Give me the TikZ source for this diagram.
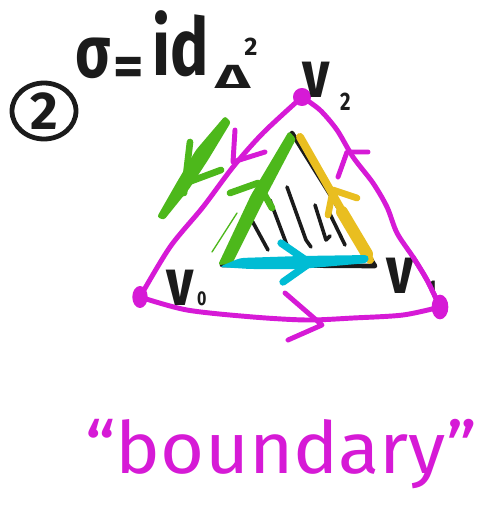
\documentclass[tikz,border=0pt]{standalone}
\usepackage{fontspec}
\setmainfont{Fira Sans}
\usetikzlibrary{shapes.geometric}
\definecolor{mag}{HTML}{D61AD6}
\definecolor{grn}{HTML}{4DB81B}
\definecolor{yel}{HTML}{E9BE20}
\definecolor{cyn}{HTML}{00BCD4}
\definecolor{ink}{HTML}{1B1B1B}
\begin{document}
\begin{tikzpicture}[x=0.75pt,y=-0.75pt,line cap=round,line join=round,
  edge/.style={mag,line width=3.7pt},
  chev/.style={mag,line width=3.7pt},
  hatch/.style={ink,line width=2.7pt},
  inner/.style={ink,line width=3.5pt},
  txt/.style={ink,inner sep=0pt,outer sep=0pt},
  vdot/.style={ellipse,fill=mag,draw=mag,line width=1.5pt,inner sep=0pt}]
\useasboundingbox[fill=white] (0,0) rectangle (489,511);

% ---------- title ----------
\node[txt,draw=ink,line width=3.6pt,ellipse,minimum width=48pt,minimum height=42pt,
  font=\bfseries\fontsize{40}{40}\selectfont] (num) at (44,111) {2};
\node[txt,xscale=0.8,font=\bfseries\fontsize{55}{55}\selectfont] (sig) at (93,58) {σ};
\node[txt,font=\bfseries\fontsize{44}{44}\selectfont] (eq) at (129,72) {=};
\node[txt,anchor=base west,xscale=0.8,font=\bfseries\fontsize{60}{60}\selectfont] (id) at (152,75) {id};
\node[txt,yscale=0.57,font=\bfseries\fontsize{44}{44}\selectfont] (del) at (233,77) {Δ};
\node[txt,font=\bfseries\fontsize{19}{19}\selectfont] (sq) at (251,47) {2};

% ---------- vertices ----------
\coordinate (v0) at (140,297);
\coordinate (v2) at (302,97);
\coordinate (v1) at (440,307);

% outer green arrow (left)
\fill[grn,rounded corners=2pt] (157,217) -- (164,220) -- (189,189) -- (208,160) -- (231,122)
   -- (225,116) -- (196,150) -- (177,182) -- cycle;
\draw[grn,line width=5pt] (190,142) -- (184,193);
\draw[grn,line width=5pt] (186,183) -- (221,170);

% ---------- outer boundary ----------
\draw[edge] plot[smooth] coordinates {(v0) (170,247) (203,207) (233,167) (263,133) (v2)};
\draw[edge] plot[smooth] coordinates {(v2) (320,110) (337,130) (353,157) (373,183) (387,207) (397,233) (413,257) (427,280) (v1)};
\draw[edge] plot[smooth] coordinates {(v0) (187,310) (253,317) (307,320) (353,318) (403,315) (v1)};
\draw[chev] (235,130) -- (233,162) -- (265,152);
\draw[chev] (338,177) -- (347,152) -- (368,152);
\draw[chev] (285,293) -- (322,325) -- (288,340);

\node[vdot,minimum width=10pt,minimum height=15pt] (d0) at (v0) {};
\node[vdot,minimum width=12pt,minimum height=12pt] (d2) at (v2) {};

% ---------- vertex labels ----------
\node[txt,anchor=base west,xscale=0.8] (l0) at (166,305)
  {\bfseries\fontsize{50}{50}\selectfont v\hspace{3.5pt}\fontsize{15}{15}\selectfont 0};
\node[txt,anchor=base west,xscale=0.8] (l2) at (302,97)
  {\bfseries\fontsize{50}{50}\selectfont v\hspace{10pt}\raisebox{-10pt}{\fontsize{19}{19}\selectfont 2}};
\node[txt,anchor=base west,xscale=0.8] (l1) at (386,293)
  {\bfseries\fontsize{50}{50}\selectfont v\hspace{14pt}\raisebox{-1.5pt}{\fontsize{16}{16}\selectfont 1}};
% the right edge passes over the "1"
\draw[edge] plot[smooth] coordinates {(413,257) (427,280) (v1)};
\node[vdot,minimum width=11pt,minimum height=17pt] (d1) at (v1) {};

% ---------- inner 2-simplex ----------
\coordinate (t) at (292,133);
\coordinate (bl) at (222,265);
\coordinate (br) at (375,266);
\draw[inner] (t) -- (bl) -- (br) -- cycle;
\draw[hatch] (250,217) -- (268,250);
\draw[hatch] (270,200) -- (288,248);
\draw[hatch] (287,187) -- (306,240) -- (311,247);
\draw[hatch] (315,205) -- (326,240) -- (330,236);
\draw[hatch] (328,210) -- (345,245);

% green edge (v0 -> v2)
\fill[grn,rounded corners=2pt] (218,265) -- (232,264) -- (264,200) -- (296,139) -- (289,131) -- (251,195) -- cycle;
\draw[grn,line width=5pt] (230,193) -- (258,183) -- (272,208);
\draw[grn,line width=1pt] (212,252) -- (237,213);

% yellow edge (v1 -> v2)
\draw[yel,line width=6pt] (300,137) -- (370,260);
\draw[yel,line width=9pt] (342,212) -- (367,254);
\draw[yel,line width=5pt] (328,215) -- (333,190) -- (357,198);

% cyan edge (v0 -> v1)
\fill[cyn,rounded corners=3pt] (219,267) -- (250,269) -- (300,269) -- (368,263) -- (369,255) -- (300,256) -- (240,258) -- cycle;
\draw[cyn,line width=5.5pt] (281,243) -- (310,263) -- (283,282);

% ---------- caption ----------
\node[mag,inner sep=0pt,anchor=base,xscale=1.05,font=\fontsize{54}{54}\selectfont] (cap) at (281,473) {“boundary”};
\end{tikzpicture}
\end{document}
